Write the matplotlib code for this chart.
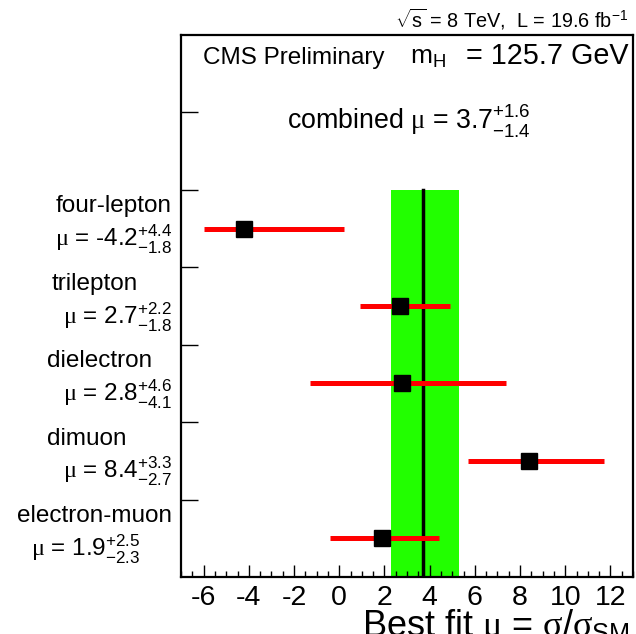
import matplotlib as mpl
mpl.use('Agg')
import matplotlib.pyplot as plt
from matplotlib.transforms import blended_transform_factory

plt.rcParams['font.family'] = ['Liberation Sans', 'DejaVu Sans']
plt.rcParams['mathtext.fontset'] = 'custom'
plt.rcParams['mathtext.rm'] = 'Liberation Sans'
plt.rcParams['mathtext.it'] = 'Liberation Serif'
plt.rcParams['mathtext.bf'] = 'Liberation Sans:bold'
plt.rcParams['axes.unicode_minus'] = False

# channels, top to bottom
channels = ['four-lepton', 'trilepton', 'dielectron', 'dimuon', 'electron-muon']
mu = [-4.2, 2.7, 2.8, 8.4, 1.9]
err_up = [4.4, 2.2, 4.6, 3.3, 2.5]
err_dn = [1.8, 1.8, 4.1, 2.7, 2.3]
ypos = [4.5, 3.5, 2.5, 1.5, 0.5]
lower_limit = -6.0   # four-lepton lower edge is a physical limit (dotted)

mu_comb = 3.7
comb_up = 1.6
comb_dn = 1.4


def pm(val, up, dn):
    # value with asymmetric errors, ROOT style (errors stacked on the right)
    return r'$%.1f\genfrac{}{}{0}{1}{+%.1f}{-%.1f}$' % (val, up, dn)


W, H = 636, 634
fig = plt.figure(figsize=(W / 100, H / 100), dpi=100)
ax = fig.add_axes([181 / W, 1 - 577 / H, (633 - 181) / W, (577 - 35) / H])

# combined band and central value
ax.fill_betweenx([0, 5], mu_comb - comb_dn, mu_comb + comb_up, color='#22ff00', lw=0, zorder=1)
ax.plot([mu_comb, mu_comb], [0, 5], color='black', lw=2.5, zorder=2)

# per-channel results
for i in range(len(channels)):
    lo = max(mu[i] - err_dn[i], lower_limit)
    hi = mu[i] + err_up[i]
    ax.plot([lo, hi], [ypos[i], ypos[i]], color='red', lw=3.6, solid_capstyle='butt', zorder=3)
    ax.plot(mu[i], ypos[i], 's', color='black', ms=11, zorder=4)
    if mu[i] - err_dn[i] < lower_limit:
        ax.plot([lower_limit, lower_limit], [ypos[i] - 0.25, ypos[i] + 0.25],
                color='black', lw=1.6, ls=(0, (1.2, 2.2)), zorder=4)

ax.set_xlim(-7, 13)
ax.set_ylim(0, 7)
ax.set_xticks(range(-6, 13, 2))
ax.set_xticks([x / 2 for x in range(-14, 27)], minor=True)
ax.set_yticks([1, 2, 3, 4, 5, 6])
ax.set_yticklabels([])
ax.tick_params(axis='x', which='major', direction='in', length=9, width=1, labelsize=20.5, pad=6)
ax.tick_params(axis='x', which='minor', direction='in', length=4.5, width=1)
ax.tick_params(axis='y', which='major', direction='in', length=12.5, width=1)
ax.tick_params(axis='y', which='minor', left=False)
for s in ax.spines.values():
    s.set_linewidth(1.6)

# channel labels left of the frame
tr = blended_transform_factory(fig.transFigure, ax.transData)
name_x = [172, 138, 152, 127, 172]
mu_x = [172, 172, 172, 172, 140]
for i in range(len(channels)):
    ax.text(name_x[i] / W, ypos[i] + 0.21, channels[i], transform=tr,
            ha='right', va='baseline', fontsize=17.5)
    sign = '-' if mu[i] < 0 else ''
    lab = r'$\mu$ = ' + sign + pm(abs(mu[i]), err_up[i], err_dn[i])
    ax.text(mu_x[i] / W, ypos[i] - 0.23, lab, transform=tr,
            ha='right', va='baseline', fontsize=17.5)

# header texts
fig.text(203 / W, 1 - 64 / H, 'CMS Preliminary', ha='left', va='baseline', fontsize=17.5)
fig.text(410 / W, 1 - 64 / H, r'$\mathrm{m_H}$', ha='left', va='baseline', fontsize=19)
fig.text(628 / W, 1 - 64 / H, '= 125.7 GeV', ha='right', va='baseline', fontsize=20.7)
fig.text(287 / W, 1 - 129 / H, r'combined $\mu$ = ' + pm(mu_comb, comb_up, comb_dn),
         ha='left', va='baseline', fontsize=19.3)
fig.text(628 / W, 1 - 28 / H, r'$\sqrt{\mathrm{s}}$ = 8 TeV,  L = 19.6 fb$^{-1}$',
         ha='right', va='baseline', fontsize=14.3)

# axis title (cut by the bottom edge, as in the original)
fig.text(362 / W, 1 - 636 / H, r'Best fit $\mu$ = $\sigma/\sigma_{\mathrm{SM}}$',
         ha='left', va='baseline', fontsize=26)

fig.savefig('out.png', dpi=100)
